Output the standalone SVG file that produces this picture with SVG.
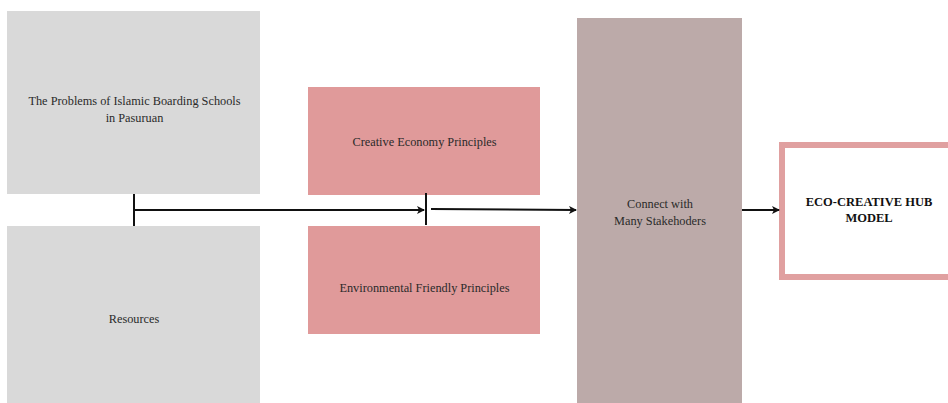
<svg xmlns="http://www.w3.org/2000/svg" width="948" height="403" viewBox="0 0 948 403">
<defs>
<marker id="ah" markerWidth="8" markerHeight="8" refX="7" refY="4" orient="auto" markerUnits="userSpaceOnUse">
<path d="M0,0 L8,4 L0,8 L2,4 Z" fill="#111"/>
</marker>
<style>
.gray{fill:#d9d9d9}
.pink{fill:#e09a9a}
.mauve{fill:#bcaaa9}
.t{font-family:"Liberation Serif","Times New Roman",serif;font-size:12.3px;fill:#2a2a2a;text-anchor:middle}
.b{font-weight:bold;fill:#111;font-size:12.5px}
.ln{stroke:#111;stroke-width:2;fill:none}
</style>
</defs>
<rect width="948" height="403" fill="#fff"/>
<g id="problems"><rect class="gray" x="7" y="11" width="253" height="183"/>
<text class="t" x="134.5" y="105">The Problems of Islamic Boarding Schools</text>
<text class="t" x="134.5" y="122">in Pasuruan</text></g>
<g id="resources"><rect class="gray" x="7" y="226" width="253" height="177"/>
<text class="t" x="134" y="323">Resources</text></g>
<g id="creative"><rect class="pink" x="308" y="87" width="232" height="108"/>
<text class="t" x="424.5" y="146">Creative Economy Principles</text></g>
<g id="environment"><rect class="pink" x="308" y="226" width="232" height="108"/>
<text class="t" x="424.5" y="292">Environmental Friendly Principles</text></g>
<g id="connect"><rect class="mauve" x="577" y="18" width="165" height="385"/>
<text class="t" x="660" y="208">Connect with</text>
<text class="t" x="660" y="225">Many Stakehoders</text></g>
<g id="model"><rect x="782" y="145" width="180" height="132" fill="#fff" stroke="#e0a0a0" stroke-width="6"/>
<text class="t b" x="869" y="206">ECO-CREATIVE HUB</text>
<text class="t b" x="869" y="222">MODEL</text></g>
<g id="connectors">
<line class="ln" x1="134" y1="194" x2="134" y2="226"/>
<line class="ln" x1="134" y1="210" x2="424" y2="210" marker-end="url(#ah)"/>
<line class="ln" x1="426" y1="193" x2="426" y2="225"/>
<line class="ln" x1="431" y1="209" x2="576" y2="210" marker-end="url(#ah)"/>
<line class="ln" x1="742" y1="210" x2="779" y2="210" marker-end="url(#ah)"/>
</g>
</svg>
